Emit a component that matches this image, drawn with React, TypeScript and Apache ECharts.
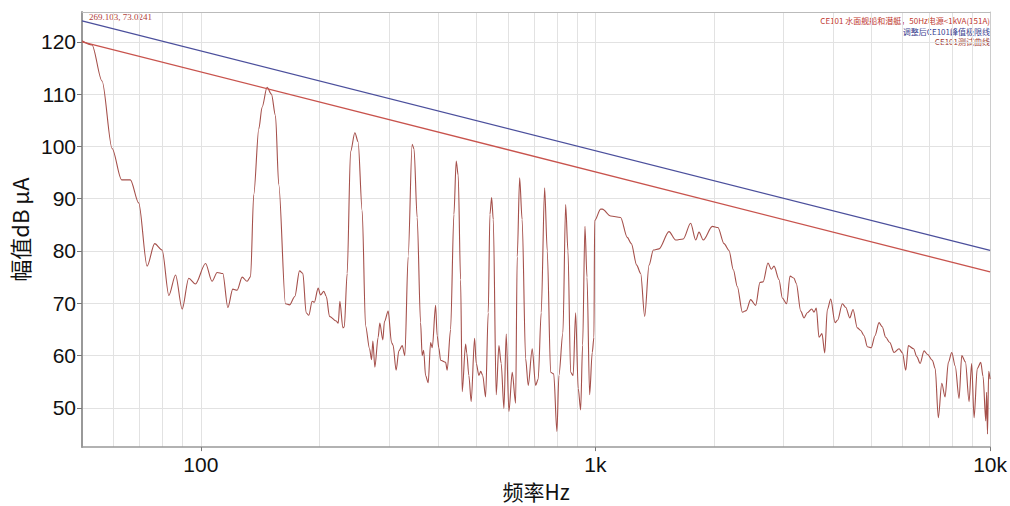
import React, { useEffect, useRef } from 'react';
import * as echarts from 'echarts';

const X_TICKS = [100, 1000, 10000];
const X_GRID = [60, 70, 80, 90, 100, 200, 300, 400, 500, 600, 700, 800, 900, 1000, 2000, 3000, 4000, 5000, 6000, 7000, 8000, 9000, 10000];
const Y_TICKS = [50, 60, 70, 80, 90, 100, 110, 120];
const X_LABELS: Record<number, string> = { 100: '100', 1000: '1k', 10000: '10k' };

const LIMIT_ADJUSTED = [[50, 124.0], [10000, 80.1]];
const LIMIT_CE101 = [[50, 120.0], [10000, 76.0]];

const TEST_CURVE = [
  [50, 120.2], [53, 119.4], [56.2, 112.5], [59.6, 99.6], [63, 93.6], [66.3, 93.6], [69.6, 89.2], [73.1, 77.1],
  [76.4, 81.4], [79.8, 80.2], [83, 71.5], [86.3, 75.4], [89.7, 68.9], [93.2, 74.8], [96.9, 73.7], [102.8, 77.6],
  [106.8, 74.2], [110, 75.9], [113.7, 75.7], [117.1, 69.2], [120.5, 72.7], [123.6, 72.5], [127.3, 75.0], [131, 74.2],
  [133.7, 75.1], [136.2, 90.8], [140.3, 103.4], [143, 107.5], [147.2, 111.3], [151, 110], [154.6, 105.9], [157.6, 92.7],
  [163.9, 69.9], [167.8, 69.7], [173.1, 71.3], [177.9, 76.2], [181.4, 75.7], [184.9, 68.2], [187.8, 67.7], [191.5, 70.4],
  [194, 70.2], [198.3, 72.9], [201.1, 71.6], [205, 72.3], [208, 71.3], [211.9, 67.5], [220.3, 66.6], [223, 66.2],
  [225.1, 70.4], [229.1, 65.3], [231, 65.5], [234.9, 75.7], [239.6, 99.0], [245.7, 102.6], [250.4, 100.9], [256.4, 87.7],
  [261.5, 65.7], [267.7, 61.3], [270.8, 59.2], [272.9, 62.8], [276.1, 57.8], [281.4, 63.5], [284.2, 66.2], [289.2, 63.0],
  [292, 66.5], [298.4, 68.5], [304.3, 62.5], [307, 62], [312.6, 57.2], [317.6, 60.9], [323.8, 61.9], [328.9, 60.0],
  [335.3, 78.9], [343.2, 100.4], [347, 99.5], [353.4, 86.4], [360.5, 66.3], [363.9, 60.0], [367, 61], [371.2, 56.2],
  [376.9, 54.8], [382.2, 62.5], [386, 61.5], [393.5, 69.6], [397.2, 63.8], [401, 61.5], [405.2, 59.1], [417.2, 58.7],
  [421.1, 57.2], [429.5, 65.0], [437.9, 87.0], [443.8, 97.2], [449, 94.5], [455.3, 74.5], [459.6, 53.1], [468.8, 62.2],
  [472, 60.5], [477.8, 56.2], [484.3, 51.2], [494, 63.3], [499, 58.5], [506.6, 56.2], [512, 57], [518, 56.2],
  [526.9, 52.1], [535, 68.2], [540.3, 87.0], [545.7, 90.2], [551, 86], [560.5, 52.5], [569.4, 61.9], [577, 58.5],
  [586.3, 49.9], [594.2, 64.1], [603.6, 49.3], [615.4, 56.8], [627.7, 50.9], [633.6, 78.9], [642.6, 94.0], [652, 86],
  [665.5, 59.4], [675.6, 54.3], [691.5, 61.3], [705.4, 54.3], [716, 55.5], [728.8, 68.2], [743.4, 92.1], [755, 80],
  [770, 56.8], [784, 56.5], [798.7, 45.5], [808.1, 56.2], [827.2, 64.4], [840.4, 88.9], [852, 80], [865.2, 56.8],
  [878, 56.2], [890.9, 68.2], [904.5, 53.7], [917.3, 49.6], [928, 62], [940.6, 84.7], [952, 75], [966.7, 52.5],
  [981.5, 60.6], [991.3, 63.5], [995.4, 85.8], [1031, 88.0], [1041, 88.0], [1093, 86.7], [1158, 86.4], [1204, 82.6],
  [1233, 81.4], [1272, 77.3], [1302, 75.7], [1333, 67.5], [1367, 77.3], [1402, 80.2], [1449, 80.4], [1536, 83.7],
  [1597, 82.1], [1669, 82.3], [1743, 85.3], [1795, 82.1], [1830, 83.6], [1876, 82.1], [1978, 84.7], [2044, 84.5],
  [2118, 81.4], [2180, 80.1], [2236, 76.4], [2288, 73.2], [2357, 68.3], [2410, 68.6], [2474, 70.7], [2547, 69.6],
  [2612, 74.0], [2660, 74.1], [2737, 77.7], [2790, 76.5], [2835, 77.1], [2919, 74.5], [2976, 71.0], [3052, 69.9],
  [3112, 75.2], [3186, 74.8], [3228, 73.8], [3313, 68.5], [3377, 67.2], [3443, 68.2], [3532, 68.9], [3580, 68.3],
  [3628, 69.1], [3686, 63.5], [3750, 64.2], [3811, 60.5], [3869, 68.8], [3947, 70.8], [4047, 66.3], [4110, 66.8],
  [4223, 69.9], [4310, 69.2], [4410, 67.2], [4495, 68.8], [4609, 65.3], [4700, 64.8], [4793, 63.8], [4887, 61.7],
  [5000, 61.5], [5110, 63.8], [5231, 66.3], [5330, 65.5], [5439, 63.5], [5570, 62.5], [5710, 60.6], [5879, 61.3],
  [6000, 60.5], [6114, 57.2], [6208, 61.9], [6400, 61.3], [6520, 59.8], [6650, 58.5], [6803, 60.9], [6950, 60.2],
  [7140, 59.1], [7260, 57.5], [7394, 48.1], [7544, 54.7], [7690, 52.1], [7840, 58.7], [7997, 60.6], [8160, 58],
  [8345, 51.8], [8478, 60.0], [8660, 58.8], [8847, 51.2], [8980, 58.5], [9110, 48.1], [9280, 57.5], [9471, 58.7],
  [9600, 56], [9752, 47.5], [9800, 53], [9850, 45.0], [9920, 57], [10000, 55.5],
];

const LEGEND_LINES = [
  { text: 'CE101 水面舰船和潜艇，50Hz电源<1kVA(151A)', color: '#c0392f' },
  { text: '调整后CE101峰值极限线', color: '#3b4190' },
  { text: 'CE101测试曲线', color: '#a03a36' },
];
const CURSOR_TEXT = '269.103, 73.0241';

export default function App() {
  const ref = useRef<HTMLDivElement>(null);
  useEffect(() => {
    if (!ref.current) return;
    const chart = echarts.init(ref.current, null, { renderer: 'svg' });
    const axisFont = 'Liberation Sans, Arial, sans-serif';
    const cjkFont = '"Noto Sans CJK SC", sans-serif';
    chart.setOption({
      animation: false,
      backgroundColor: '#ffffff',
      grid: { left: 82, right: 19, top: 12, bottom: 54, containLabel: false },
      xAxis: [
        {
          type: 'log', logBase: 10, min: 50, max: 10000, position: 'bottom',
          name: '频率Hz', nameLocation: 'middle', nameGap: 30,
          nameTextStyle: { fontSize: 21, color: '#111', fontFamily: cjkFont },
          axisLine: { show: true, lineStyle: { color: '#999', width: 1.5 } },
          axisTick: { show: true, length: 4, inside: false, customValues: X_TICKS, lineStyle: { color: '#777' } },
          axisLabel: {
            customValues: X_TICKS, fontSize: 21, color: '#111', margin: 7, fontFamily: axisFont,
            formatter: (v: number) => X_LABELS[Math.round(v)] ?? '',
          },
          splitLine: { show: false },
        },
        {
          type: 'log', logBase: 10, min: 50, max: 10000, position: 'top',
          axisLine: { show: true, lineStyle: { color: '#bbb', width: 1 } },
          axisTick: { show: false, customValues: X_GRID },
          axisLabel: { show: false },
          splitLine: { show: true, lineStyle: { color: '#e2e2e2', width: 1 } },
        },
      ],
      yAxis: [
        {
          type: 'value', min: 42.5, max: 125.7, position: 'left',
          name: '幅值dB μA', nameLocation: 'middle', nameGap: 50,
          nameTextStyle: { fontSize: 22, color: '#111', fontFamily: cjkFont },
          axisLine: { show: true, lineStyle: { color: '#999', width: 2 } },
          axisTick: { show: true, length: 5, customValues: Y_TICKS, lineStyle: { color: '#777' } },
          axisLabel: { customValues: Y_TICKS, fontSize: 21, color: '#111', margin: 6, fontFamily: axisFont },
          splitLine: { show: true, lineStyle: { color: '#e2e2e2', width: 1 } },
        },
        {
          type: 'value', min: 42.5, max: 125.7, position: 'right',
          axisLine: { show: true, lineStyle: { color: '#ccc', width: 1 } },
          axisTick: { show: false }, axisLabel: { show: false }, splitLine: { show: false },
        },
      ],
      series: [
        {
          name: 'CE101测试曲线', type: 'line', data: TEST_CURVE, showSymbol: false, symbol: 'none',
          xAxisIndex: 0, yAxisIndex: 0, smooth: 0.3, smoothMonotone: 'x',
          lineStyle: { color: '#a5504b', width: 1.1 }, clip: true,
        },
        {
          name: 'CE101', type: 'line', data: LIMIT_CE101, showSymbol: false, symbol: 'none',
          xAxisIndex: 0, yAxisIndex: 0,
          lineStyle: { color: '#c8534d', width: 1.3 },
        },
        {
          name: '调整后CE101峰值极限线', type: 'line', data: LIMIT_ADJUSTED, showSymbol: false, symbol: 'none',
          xAxisIndex: 0, yAxisIndex: 0,
          lineStyle: { color: '#4b4f9c', width: 1.3 },
        },
      ],
      graphic: [
        {
          type: 'text', left: 89, top: 12,
          style: { text: CURSOR_TEXT, fill: '#b0403a', font: '9px "Liberation Serif", serif' },
        },
        ...LEGEND_LINES.map((l, i) => ({
          type: 'text', right: 20, top: 16 + i * 10.6,
          style: { text: l.text, fill: l.color, font: `8px ${cjkFont}`, lineHeight: 9 },
        })),
      ],
    });
    return () => chart.dispose();
  }, []);
  return (
    <div
      ref={ref}
      style={{ position: 'fixed', left: 0, top: 0, width: 1010, height: 506, background: '#fff' }}
    />
  );
}
